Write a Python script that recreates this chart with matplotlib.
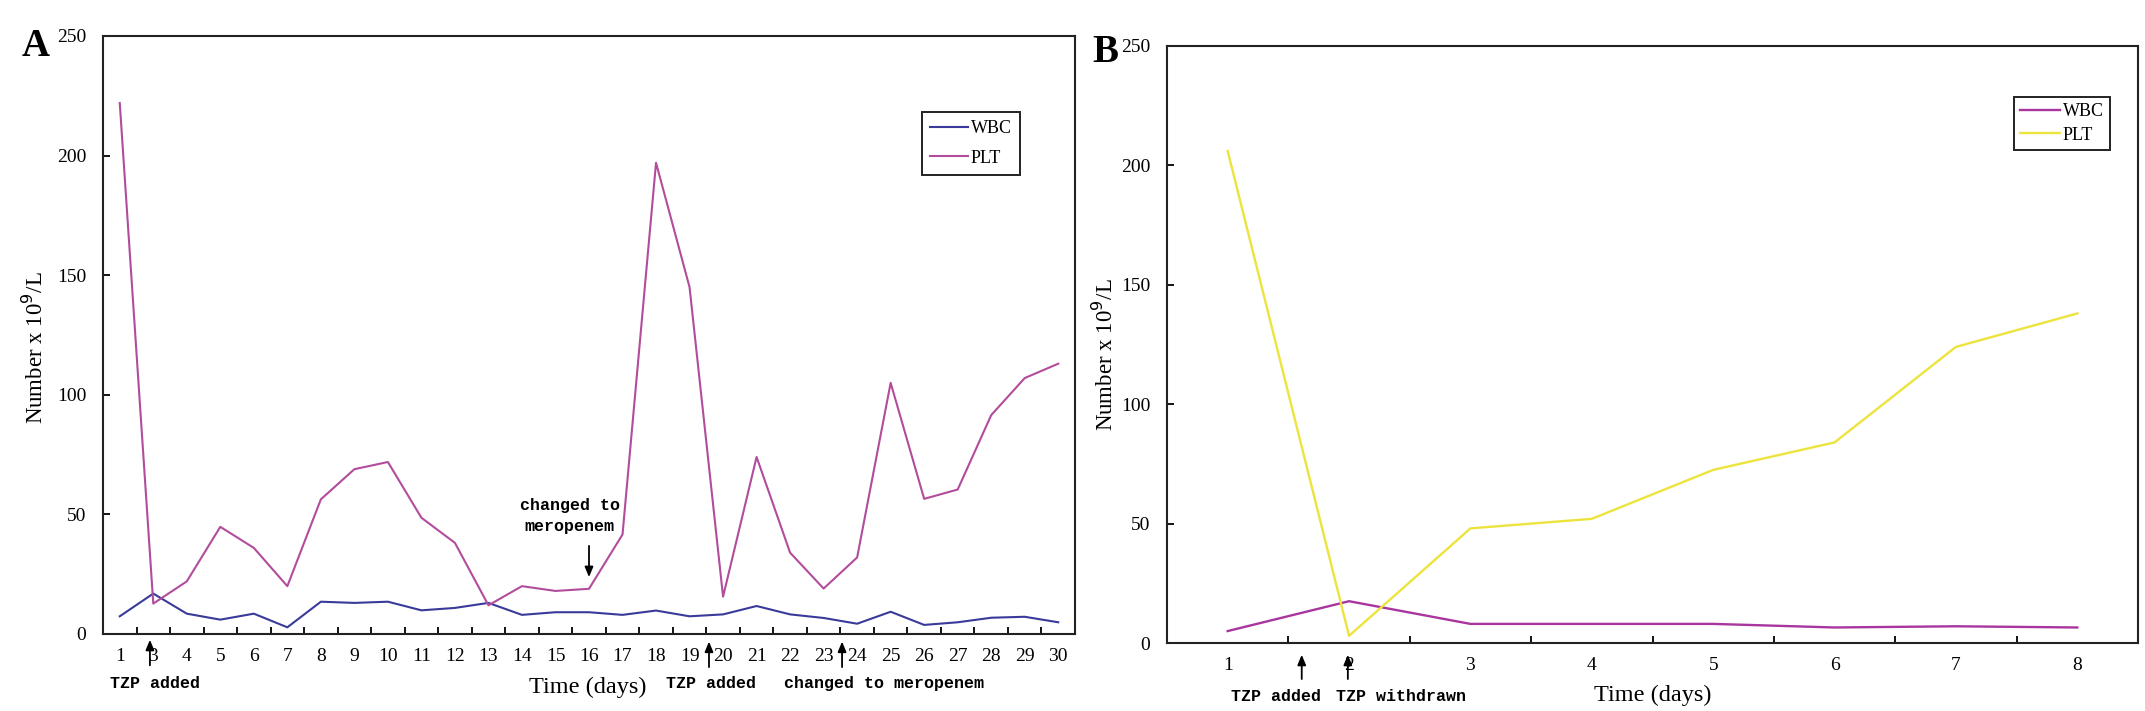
import matplotlib
matplotlib.use("Agg")
import matplotlib.pyplot as plt
from matplotlib.ticker import FixedLocator

# --- data ---
days_a = ["1", "3", "4", "5", "6", "7", "8", "9", "10", "11", "12", "13", "14", "15",
          "16", "17", "18", "19", "20", "21", "22", "23", "24", "25", "26", "27", "28",
          "29", "30"]
wbc_a = [7.4, 16.9, 8.5, 6.0, 8.5, 2.8, 13.5, 13.0, 13.5, 9.9, 10.9, 13.0, 8.0, 9.1,
         9.1, 8.0, 9.8, 7.4, 8.2, 11.7, 8.2, 6.7, 4.3, 9.3, 3.8, 4.9, 6.8, 7.2, 4.9]
plt_a = [222, 12.7, 22, 44.8, 36, 20, 56.3, 68.9, 71.9, 48.6, 38.1, 12, 20, 18,
         18.9, 41.6, 197, 145, 15.6, 74, 34, 19, 32, 105, 56.5, 60.4, 91.5, 107, 113]

days_b = ["1", "2", "3", "4", "5", "6", "7", "8"]
wbc_b = [5, 17.5, 8, 8, 8, 6.5, 7, 6.5]
plt_b = [206, 3, 48, 52, 72.5, 84, 124, 138]

y_ticks = [0, 50, 100, 150, 200, 250]

SERIF = "Liberation Serif"
MONO = "Liberation Mono"
W, H = 2145, 711

fig = plt.figure(figsize=(W / 100, H / 100), dpi=100)
ax_a = fig.add_axes([103 / W, 1 - 634 / H, 972 / W, 598 / H])
ax_b = fig.add_axes([1167 / W, 1 - 643 / H, 971 / W, 597 / H])


def style_axes(ax, labels):
    n = len(labels)
    ax.set_xlim(-0.5, n - 0.5)
    ax.set_ylim(0, 250)
    ax.set_yticks(y_ticks)
    ax.set_yticklabels([str(v) for v in y_ticks], family=SERIF, fontsize=14)
    ax.set_xticks(range(n))
    ax.set_xticklabels(labels, family=SERIF, fontsize=14)
    ax.xaxis.set_minor_locator(FixedLocator([k + 0.5 for k in range(n - 1)]))
    ax.tick_params(axis="x", which="major", length=0, pad=10)
    ax.tick_params(axis="x", which="minor", direction="in", length=5, width=1.3)
    ax.tick_params(axis="y", direction="in", length=5, width=1.3, pad=12)
    for s in ax.spines.values():
        s.set_linewidth(1.5)
        s.set_color("#222222")


# --- Panel A ---
xa = list(range(len(days_a)))
ax_a.plot(xa, wbc_a, color="#3a3a9a", lw=1.5, label="WBC")
ax_a.plot(xa, plt_a, color="#b24c9c", lw=1.5, label="PLT")
style_axes(ax_a, days_a)

# --- Panel B ---
xb = list(range(len(days_b)))
ax_b.plot(xb, wbc_b, color="#a8369e", lw=1.7, label="WBC")
ax_b.plot(xb, plt_b, color="#ece43c", lw=1.7, label="PLT")
style_axes(ax_b, days_b)

leg_a = ax_a.legend(loc="upper left", bbox_to_anchor=(922 / W, 1 - 112 / H),
                    bbox_transform=fig.transFigure, prop={"family": SERIF, "size": 13},
                    handlelength=2.1, handletextpad=0.15, borderpad=0.45,
                    labelspacing=0.7, fancybox=False, framealpha=1, borderaxespad=0)
leg_b = ax_b.legend(loc="upper left", bbox_to_anchor=(2014 / W, 1 - 97 / H),
                    bbox_transform=fig.transFigure, prop={"family": SERIF, "size": 13},
                    handlelength=2.2, handletextpad=0.15, borderpad=0.35,
                    labelspacing=0.35, fancybox=False, framealpha=1, borderaxespad=0)
for leg in (leg_a, leg_b):
    leg.get_frame().set_edgecolor("#222222")
    leg.get_frame().set_linewidth(1.4)

# --- y labels and panel letters ---
fig.text(35 / W, 1 - 348 / H, "Number x 10$^{9}$/L", rotation=90, ha="center",
         va="center", family=SERIF, fontsize=16.5)
fig.text(1105 / W, 1 - 355 / H, "Number x 10$^{9}$/L", rotation=90, ha="center",
         va="center", family=SERIF, fontsize=16.5)
fig.text(22 / W, 1 - 46 / H, "A", ha="left", va="center", family=SERIF,
         fontsize=28, fontweight="bold")
fig.text(1092 / W, 1 - 52 / H, "B", ha="left", va="center", family=SERIF,
         fontsize=28, fontweight="bold")

# --- annotations ---
arrow = dict(arrowstyle="-|>,head_length=0.6,head_width=0.25", color="black", lw=1.3)
note = dict(family=MONO, fontsize=12, fontweight="bold", ha="center", va="center")

tr_a = ax_a.get_xaxis_transform()
for xa_arrow, y0, y1 in [(0.9, -0.057, -0.005), (17.58, -0.06, -0.008), (21.55, -0.06, -0.008)]:
    ax_a.annotate("", xy=(xa_arrow, y1), xytext=(xa_arrow, y0), xycoords=tr_a,
                  textcoords=tr_a, arrowprops=arrow, annotation_clip=False)
ax_a.text(1.05, -0.083, "TZP added", transform=tr_a, **note)
ax_a.text(17.64, -0.083, "TZP added", transform=tr_a, **note)
ax_a.text(22.8, -0.083, "changed to meropenem", transform=tr_a, **note)
ax_a.text(13.97, -0.089, "Time (days)", transform=tr_a, ha="center", va="center",
          family=SERIF, fontsize=17.5)
ax_a.text(13.43, 49.3, "changed to\nmeropenem", linespacing=1.5, **note)
ax_a.annotate("", xy=(14, 22.6), xytext=(14, 38), arrowprops=arrow)

tr_b = ax_b.get_xaxis_transform()
for xb_arrow in (0.61, 0.99):
    ax_b.annotate("", xy=(xb_arrow, -0.015), xytext=(xb_arrow, -0.065), xycoords=tr_b,
                  textcoords=tr_b, arrowprops=arrow, annotation_clip=False)
ax_b.text(0.395, -0.089, "TZP added", transform=tr_b, **note)
ax_b.text(1.43, -0.089, "TZP withdrawn", transform=tr_b, **note)
ax_b.text(3.5, -0.087, "Time (days)", transform=tr_b, ha="center", va="center",
          family=SERIF, fontsize=17.5)

fig.savefig("out.png", dpi=100)
